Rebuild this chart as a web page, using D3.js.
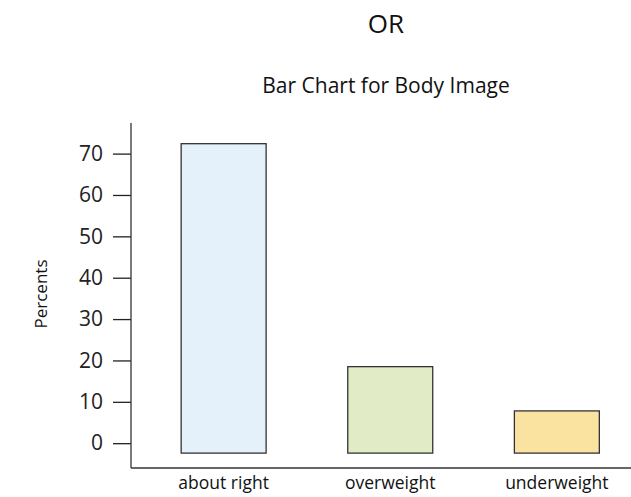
<!DOCTYPE html>
<html>
<head>
<meta charset="utf-8">
<script src="https://cdn.jsdelivr.net/npm/d3@7"></script>
<style>
  body { margin: 0; background: #fff; }
  svg { display: block; font-family: "Open Sans", sans-serif; }
</style>
</head>
<body>
<div id="chart"></div>
<script>
const categories = ["about right", "overweight", "underweight"];
const percents = [72.4, 18.5, 7.8];
const barColors = ["#e4f1fa", "#e1ecc7", "#fae3a0"];
const yTicks = [0, 10, 20, 30, 40, 50, 60, 70];
const barBase = -2.4;

const width = 631, height = 497;
const font = "'Open Sans', sans-serif";

const svg = d3.select("#chart")
  .append("svg")
    .attr("width", width)
    .attr("height", height);

const y = d3.scaleLinear()
  .domain([-6, 77.4])
  .range([468, 123]);

const x = d3.scaleBand()
  .domain(categories)
  .range([139.5, 641])
  .paddingInner(0.49)
  .paddingOuter(0.25);

svg.append("text")
  .attr("x", 386)
  .attr("y", 33)
  .attr("text-anchor", "middle")
  .style("font-size", "26px")
  .style("fill", "#111")
  .text("OR");

svg.append("text")
  .attr("x", 386)
  .attr("y", 93)
  .attr("text-anchor", "middle")
  .style("font-size", "21px")
  .style("fill", "#111")
  .text("Bar Chart for Body Image");

// bars
svg.append("g")
  .selectAll("rect")
  .data(percents)
  .join("rect")
    .attr("x", (d, i) => x(categories[i]))
    .attr("y", d => y(d))
    .attr("width", x.bandwidth())
    .attr("height", d => y(barBase) - y(d))
    .attr("fill", (d, i) => barColors[i])
    .attr("stroke", "#333")
    .attr("stroke-width", 1.3);

// y axis
const yAxis = svg.append("g")
  .attr("transform", "translate(131,0)")
  .call(d3.axisLeft(y).tickValues(yTicks).tickSize(18).tickPadding(10));
yAxis.attr("font-family", font).attr("font-size", 21);
yAxis.select(".domain").remove();
yAxis.selectAll("line").attr("stroke", "#222").attr("stroke-width", 1.3);
yAxis.selectAll("text").style("fill", "#222");

svg.append("line")
  .attr("x1", 131).attr("x2", 131)
  .attr("y1", y.range()[1]).attr("y2", y.range()[0])
  .attr("stroke", "#333").attr("stroke-width", 1.3);

// x axis
const xAxis = svg.append("g")
  .attr("transform", "translate(0,468)")
  .call(d3.axisBottom(x).tickSize(0).tickPadding(9));
xAxis.attr("font-family", font).attr("font-size", 17.5);
xAxis.select(".domain").remove();
xAxis.selectAll("text").style("fill", "#111");

svg.append("line")
  .attr("x1", 131).attr("x2", width)
  .attr("y1", 468).attr("y2", 468)
  .attr("stroke", "#333").attr("stroke-width", 1.3);

svg.append("text")
  .attr("transform", "translate(47,294) rotate(-90)")
  .attr("text-anchor", "middle")
  .style("font-size", "17px")
  .style("fill", "#111")
  .text("Percents");
</script>
</body>
</html>
